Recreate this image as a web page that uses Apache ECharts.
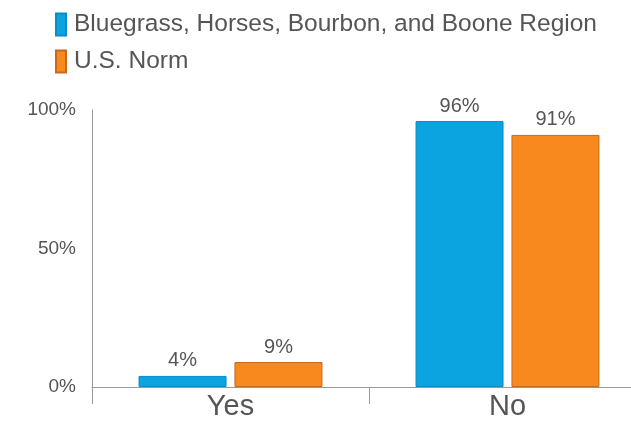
<!DOCTYPE html>
<html><head><meta charset="utf-8">
<script src="https://cdn.jsdelivr.net/npm/echarts@6/dist/echarts.min.js"></script>
<style>html,body{margin:0;padding:0;background:#fff;overflow:hidden;width:631px;height:421px}#c{width:660px;height:421px}</style>
</head><body><div id="c"></div>
<script>
const categories = ['Yes', 'No'];
const regionName = 'Bluegrass, Horses, Bourbon, and Boone Region';
const normName = 'U.S. Norm';
const regionValues = [4, 96];
const normValues = [9, 91];
const yTicks = [0, 50, 100];

const chart = echarts.init(document.getElementById('c'));
const lbl = {show: true, position: 'top', distance: 5, formatter: '{c}%', color: '#555', fontSize: 20, fontFamily: 'Liberation Sans, Arial, sans-serif'};
chart.setOption({
  animation: false,
  textStyle: {fontFamily: 'Liberation Sans, Arial, sans-serif'},
  legend: {
    orient: 'vertical', left: 50, top: 7, itemWidth: 10, itemHeight: 22, itemGap: 12,
    icon: 'rect',
    textStyle: {color: '#555', fontSize: 24.5, padding: [0, 0, 0, 3]},
    data: [regionName, normName]
  },
  grid: {left: 92, top: 110, bottom: 30, right: 14},
  xAxis: {
    type: 'category', data: categories,
    axisLine: {lineStyle: {color: '#999'}},
    axisTick: {show: true, length: 17, lineStyle: {color: '#999'}},
    axisLabel: {color: '#555', fontSize: 29, margin: 5}
  },
  yAxis: {
    type: 'value', min: 0, max: 100, interval: 50,
    axisLine: {show: true, lineStyle: {color: '#999'}},
    axisTick: {show: false},
    splitLine: {show: false},
    axisLabel: {color: '#555', fontSize: 19, margin: 16, formatter: v => v + '%'}
  },
  series: [
    {name: regionName, type: 'bar', data: regionValues, barWidth: 88, barGap: '9%',
     itemStyle: {color: '#0BA3E0', borderColor: '#0a8cc4', borderWidth: 1}, label: lbl},
    {name: normName, type: 'bar', data: normValues, barWidth: 88,
     itemStyle: {color: '#F7891F', borderColor: '#c9691a', borderWidth: 1}, label: lbl}
  ]
});
</script></body></html>
